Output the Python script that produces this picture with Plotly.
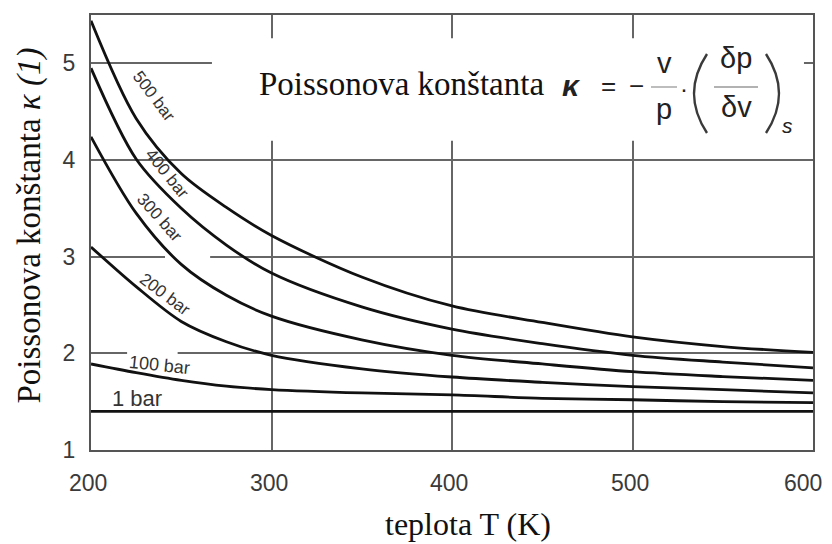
import plotly.graph_objects as go

# ---------------- data ----------------
temperature_K = [200, 225, 250, 275, 300, 350, 400, 450, 500, 550, 600]
kappa_500bar = [5.44, 4.43, 3.86, 3.51, 3.22, 2.79, 2.49, 2.32, 2.17, 2.07, 2.01]
kappa_400bar = [4.95, 4.01, 3.50, 3.12, 2.83, 2.48, 2.25, 2.10, 1.98, 1.91, 1.85]
kappa_300bar = [4.24, 3.45, 2.92, 2.60, 2.385, 2.14, 1.98, 1.89, 1.81, 1.76, 1.72]
kappa_200bar = [3.10, 2.69, 2.33, 2.12, 1.98, 1.84, 1.755, 1.70, 1.655, 1.625, 1.59]
kappa_100bar = [1.89, 1.80, 1.72, 1.66, 1.625, 1.59, 1.57, 1.535, 1.52, 1.50, 1.49]
kappa_1bar = [1.40, 1.40, 1.40, 1.40, 1.40, 1.40, 1.40, 1.40, 1.40, 1.40, 1.40]

series_names = ["500 bar", "400 bar", "300 bar", "200 bar", "100 bar", "1 bar"]
series_values = [kappa_500bar, kappa_400bar, kappa_300bar, kappa_200bar, kappa_100bar, kappa_1bar]

x_ticks = [200, 300, 400, 500, 600]
x_tick_labels = ["200", "300", "400", "500", "600"]
y_ticks = [1, 2, 3, 4, 5]

# ---------------- layout constants ----------------
# the page body adds an 8 px margin, so the figure is shifted to compensate
OFF = 8
W, H = 832, 544 - OFF
PL, PR, PT, PB = 91, 813, 15, 450          # plot box in page pixels
L, R, T, B = PL - OFF, W - (PR - OFF), PT - OFF, H - (PB - OFF)
PW, PH = PR - PL, PB - PT

def px(xp):
    return (xp - PL) / PW

def py(yp):
    return (PB - yp) / PH

SANS = "Liberation Sans, Arial, sans-serif"
SERIF = "Liberation Serif, Times New Roman, serif"

fig = go.Figure()
for name, vals in zip(series_names, series_values):
    fig.add_trace(go.Scatter(
        x=temperature_K, y=vals, mode="lines", name=name,
        line=dict(color="#111111", width=2.8, shape="spline", smoothing=0.9),
        showlegend=False, hoverinfo="skip"))

# curve labels: x, y, angle, size
label_style = {
    "500 bar": (235.0, 4.66, 53, 17),
    "400 bar": (242.0, 3.86, 51, 17),
    "300 bar": (238.0, 3.41, 48, 17),
    "200 bar": (241.0, 2.61, 37, 17),
    "100 bar": (238.0, 1.88, 6, 18),
    "1 bar": (225.5, 1.53, 0, 22),
}
for name in series_names:
    xx, yy, ang, sz = label_style[name]
    fig.add_annotation(x=xx, y=yy, text=name, showarrow=False, textangle=ang,
                       font=dict(family=SANS, size=sz, color="#333333"))

# white patches that interrupt the grid behind labels / formula
patches = [
    (220, 248, 1.97, 2.03),
    (241, 266, 2.97, 3.03),
    (267, 595, 4.20, 5.26),
]
for x0, x1, y0, y1 in patches:
    fig.add_shape(type="rect", x0=x0, x1=x1, y0=y0, y1=y1, layer="between",
                  fillcolor="white", line=dict(width=0))

# ---------------- formula ----------------
def ann(xp, yp, text, size, family=SANS, color="#222222", xanchor="center"):
    fig.add_annotation(xref="paper", yref="paper", x=px(xp), y=py(yp), text=text,
                       showarrow=False, xanchor=xanchor, yanchor="middle",
                       font=dict(family=family, size=size, color=color))

ann(257, 84, "Poissonova konštanta", 33, SERIF, "#111111", xanchor="left")
ann(571, 86, "<b><i>κ</i></b>", 30)
ann(608, 86, "=", 26)
ann(636, 86, "−", 26)
ann(664, 63, "v", 29)
ann(664, 109, "p", 29)
ann(684, 88, "·", 24)
ann(736, 58, "δp", 29)
ann(736, 107, "δv", 29)
ann(787, 126, "<i>s</i>", 21)
for x0p, x1p in [(651, 677), (714, 758)]:
    fig.add_shape(type="line", xref="paper", yref="paper",
                  x0=px(x0p), x1=px(x1p), y0=py(87), y1=py(87),
                  line=dict(color="#999999", width=1.3))

# thin tall parentheses drawn as curves
def paren(x_end, x_ctrl, y_top, y_bot):
    return (f"M {px(x_end)},{py(y_top)} Q {px(x_ctrl)},{py((y_top + y_bot) / 2)} "
            f"{px(x_end)},{py(y_bot)}")

for x_end, x_ctrl in [(707, 681), (766, 792)]:
    fig.add_shape(type="path", xref="paper", yref="paper",
                  path=paren(x_end, x_ctrl, 54, 133),
                  line=dict(color="#3a3a3a", width=2.4))

# ---------------- axis titles ----------------
ann(468, 524, "teplota T (K)", 32, SERIF, "#111111")
fig.add_annotation(xref="paper", yref="paper", x=px(8), y=py(226),
                   text="Poissonova konštanta <i>κ (1)</i>", textangle=-90,
                   showarrow=False, font=dict(family=SERIF, size=33, color="#111111"))

# x tick labels (placed as text so the last one stays inside the page)
for i, (tv, tt) in enumerate(zip(x_ticks, x_tick_labels)):
    shift = -10 if i == len(x_ticks) - 1 else -3
    fig.add_annotation(x=tv, xref="x", yref="paper", y=py(483), text=tt,
                       showarrow=False, xanchor="center", yanchor="middle", xshift=shift,
                       font=dict(family=SANS, size=23, color="#3a3a3a"))

axis_common = dict(showgrid=True, gridcolor="#666666", gridwidth=1.5,
                   showline=True, linecolor="#555555", linewidth=2, mirror=True,
                   zeroline=False, ticks="", automargin=False,
                   tickfont=dict(family=SANS, size=23, color="#3a3a3a"))
fig.update_xaxes(range=[200, 600], tickvals=x_ticks, showticklabels=False, **axis_common)
fig.update_yaxes(range=[1, 5.5], tickvals=y_ticks, ticklabelstandoff=9, **axis_common)

fig.update_layout(width=W, height=H, margin=dict(l=L, r=R, t=T, b=B, autoexpand=False),
                  paper_bgcolor="white", plot_bgcolor="white", showlegend=False)

fig.write_html("out.html")
